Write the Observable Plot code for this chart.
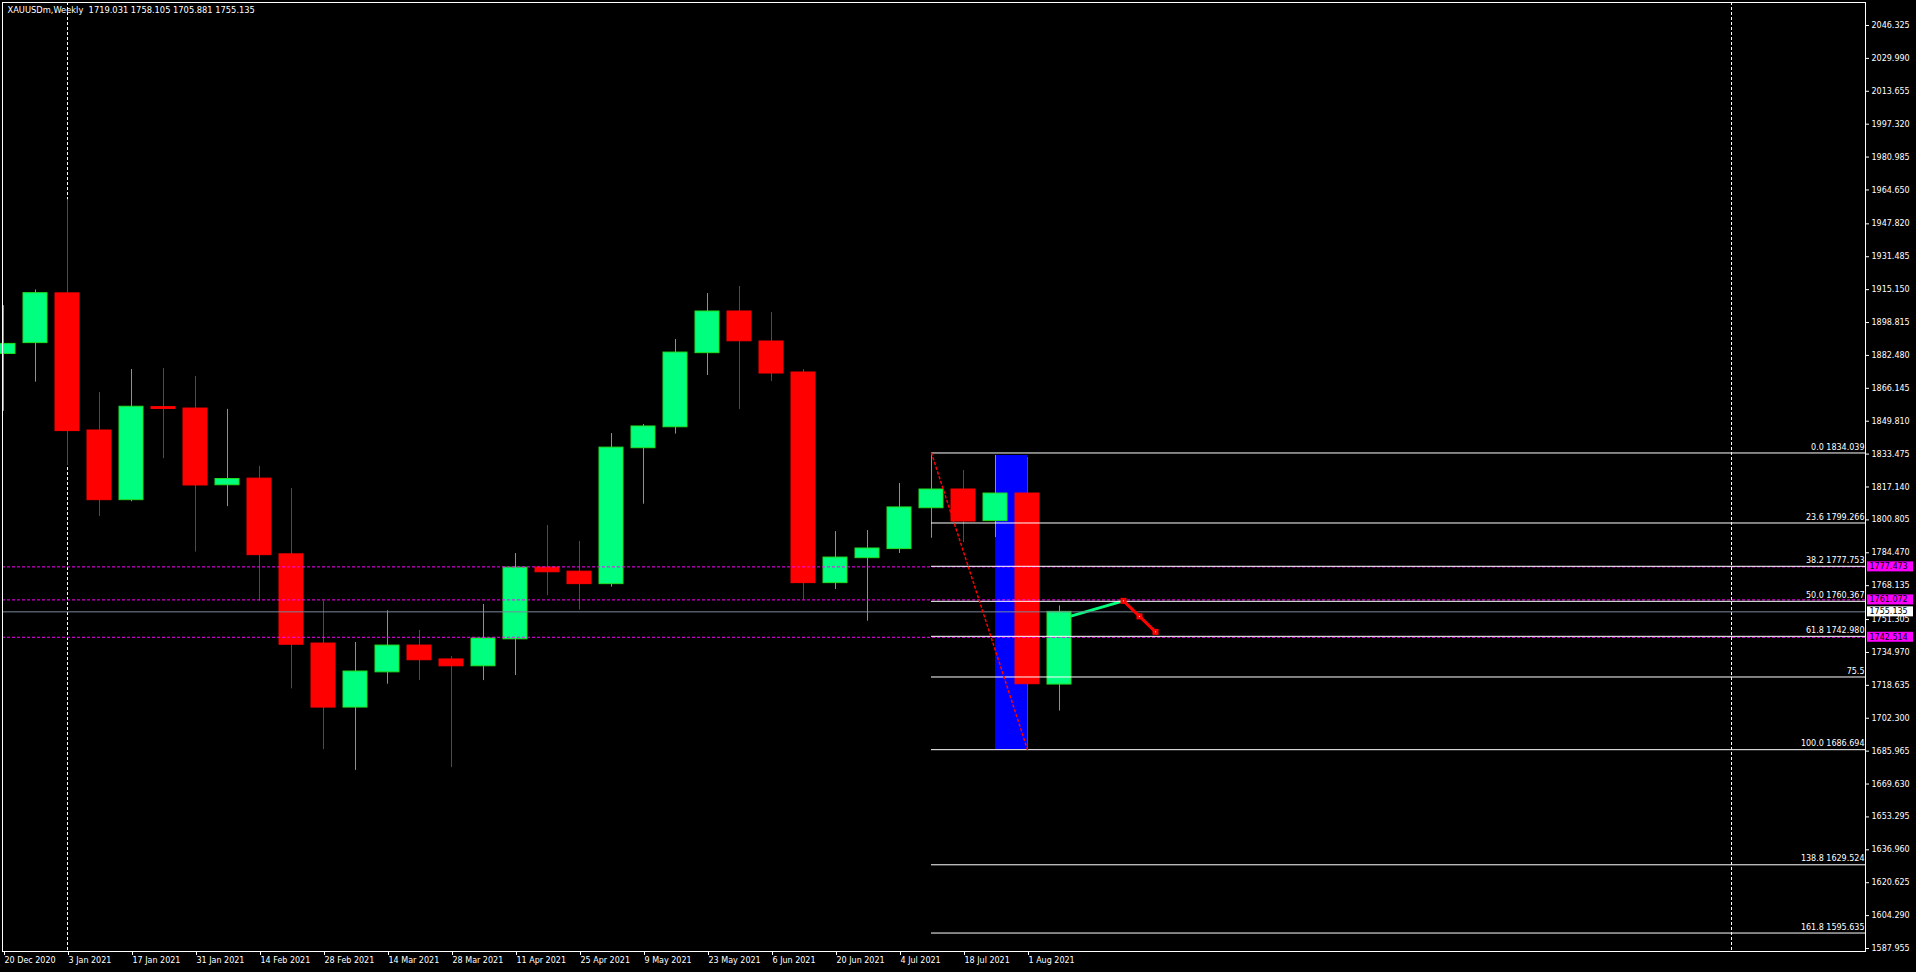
<!DOCTYPE html>
<html><head><meta charset="utf-8">
<script src="https://cdn.jsdelivr.net/npm/d3@7"></script>
<script src="https://cdn.jsdelivr.net/npm/@observablehq/plot@0.6"></script>
<style>
html,body{margin:0;padding:0;background:#000;overflow:hidden}
#chart svg{display:block}
#chart text{white-space:pre}
</style></head><body><div id="chart"></div>
<script>
// ---------- data ----------
const chartTitle = "XAUUSDm,Weekly  1719.031 1758.105 1705.881 1755.135";
const weeks = ["2020-12-20","2020-12-27","2021-01-03","2021-01-10","2021-01-17","2021-01-24","2021-01-31","2021-02-07","2021-02-14","2021-02-21","2021-02-28","2021-03-07","2021-03-14","2021-03-21","2021-03-28","2021-04-04","2021-04-11","2021-04-18","2021-04-25","2021-05-02","2021-05-09","2021-05-16","2021-05-23","2021-05-30","2021-06-06","2021-06-13","2021-06-20","2021-06-27","2021-07-04","2021-07-11","2021-07-18","2021-07-25","2021-08-01","2021-08-08"];
const opens  = [1883.2,1888.6,1913.3,1845.2,1810.6,1856.8,1856.1,1818.0,1821.3,1783.7,1739.4,1707.6,1725.1,1738.4,1731.5,1728.1,1741.5,1777.1,1775.1,1768.9,1836.4,1846.8,1883.6,1904.3,1889.4,1874.0,1769.4,1781.8,1786.3,1806.6,1815.9,1800.2,1813.9,1719.031];
const highs  = [1907.2,1915.0,1959.8,1864.0,1875.5,1876.0,1872.0,1855.7,1827.4,1816.4,1760.5,1739.9,1755.7,1745.9,1732.9,1758.8,1784.1,1798.0,1790.1,1843.7,1848.2,1890.4,1913.2,1916.7,1903.8,1875.5,1795.0,1795.5,1818.9,1834.039,1825.3,1832.8,1831.8,1758.105];
const lows   = [1854.7,1869.2,1827.7,1802.5,1809.8,1831.2,1784.8,1807.4,1760.5,1716.9,1686.7,1676.4,1719.2,1721.0,1677.8,1721.0,1723.5,1763.2,1756.0,1767.4,1808.6,1843.4,1872.5,1855.6,1869.5,1761.1,1766.2,1750.5,1784.1,1791.7,1789.6,1792.0,1686.694,1705.881];
const closes = [1888.2,1913.4,1844.9,1810.6,1857.0,1855.9,1817.9,1821.1,1783.3,1738.8,1707.6,1725.5,1738.4,1731.1,1728.1,1741.9,1777.1,1774.8,1768.9,1836.7,1847.2,1883.9,1904.3,1889.5,1873.5,1769.4,1782.1,1786.6,1807.0,1815.9,1800.0,1813.9,1719.2,1755.135];

const xTickLabels = ["20 Dec 2020","3 Jan 2021","17 Jan 2021","31 Jan 2021","14 Feb 2021","28 Feb 2021","14 Mar 2021","28 Mar 2021","11 Apr 2021","25 Apr 2021","9 May 2021","23 May 2021","6 Jun 2021","20 Jun 2021","4 Jul 2021","18 Jul 2021","1 Aug 2021"];
const yTicks = [2046.325,2029.990,2013.655,1997.320,1980.985,1964.650,1947.820,1931.485,1915.150,1898.815,1882.480,1866.145,1849.810,1833.475,1817.140,1800.805,1784.470,1768.135,1751.305,1734.970,1718.635,1702.300,1685.965,1669.630,1653.295,1636.960,1620.625,1604.290,1587.955];

const fibPrices = [1834.039,1799.266,1777.753,1760.367,1742.980,1722.79,1686.694,1629.524,1595.635];
const fibLabels = ["0.0 1834.039","23.6 1799.266","38.2 1777.753","50.0 1760.367","61.8 1742.980","75.5","100.0 1686.694","138.8 1629.524","161.8 1595.635"];
const fibStartWeek = "2021-07-11";

const trendWeeks = ["2021-07-11","2021-08-01"];
const trendPrices = [1834.039,1686.694];

const boxWeeks = ["2021-07-25","2021-08-01"];
const boxPrices = [1832.8,1686.694];

const alertPrices = [1777.473,1761.072,1742.514];
const bidPrice = 1755.135;
const separatorWeeks = ["2021-01-03","2022-01-02"];

const projGreenTimes = ["2021-08-08","2021-08-22"];
const projGreenPrices = [1751.4,1760.6];
const projRedTimes = ["2021-08-22","2021-08-25T12:00Z","2021-08-29"];
const projRedPrices = [1760.6,1752.9,1745.2];

// ---------- build ----------
const WEEK = 7 * 864e5;
const D = s => new Date(s);
const candles = weeks.map((w, i) => ({date: D(w), open: opens[i], high: highs[i], low: lows[i], close: closes[i], up: closes[i] >= opens[i]}));
const parseTick = d3.utcParse("%d %b %Y");
const xTicks = xTickLabels.map(parseTick);
const t0 = +D(weeks[0]);
const xDomain = [new Date(t0 - 0.03125 * WEEK), new Date(t0 + 58.1875 * WEEK)];
const xEnd = xDomain[1];
const fib = fibPrices.map((p, i) => ({price: p, label: fibLabels[i]}));
const trend = trendWeeks.map((w, i) => ({date: D(w), price: trendPrices[i]}));
const projGreen = projGreenTimes.map((w, i) => ({date: D(w), price: projGreenPrices[i]}));
const projRed = projRedTimes.map((w, i) => ({date: D(w), price: projRedPrices[i]}));

const UPFILL = "#00ff7f", UPLINE = "#22dd22", DOWN = "#ff0000";
const HALF = 0.375 * WEEK;

const chart = Plot.plot({
  width: 1916, height: 972,
  marginLeft: 2, marginRight: 51, marginTop: 2, marginBottom: 21,
  style: {background: "#000", color: "#fff", fontFamily: "DejaVu Sans", fontSize: "8px"},
  x: {type: "utc", domain: xDomain, axis: null},
  y: {domain: [1586.465, 2057.747], axis: null},
  marks: [
    Plot.ruleX(separatorWeeks.map(D), {x: d => d, stroke: "#fff", strokeDasharray: "3,2"}),
    Plot.rect([0], {x1: D(boxWeeks[0]), x2: D(boxWeeks[1]), y1: boxPrices[0], y2: boxPrices[1], fill: "#0000ff"}),
    Plot.line(projGreen, {x: "date", y: "price", stroke: UPFILL, strokeWidth: 3}),
    Plot.ruleX(candles, {x: "date", y1: "low", y2: "high", stroke: d => d.up ? UPLINE : DOWN}),
    Plot.rect(candles, {
      x1: d => new Date(+d.date - HALF), x2: d => new Date(+d.date + HALF),
      y1: "open", y2: "close",
      fill: d => d.up ? UPFILL : DOWN, stroke: d => d.up ? UPLINE : DOWN
    }),
    Plot.ruleY(alertPrices, {y: d => d, stroke: "#ff00ff", strokeDasharray: "3,2"}),
    Plot.ruleY([bidPrice], {y: d => d, stroke: "#778899"}),
    Plot.ruleY(fib, {y: "price", x1: D(fibStartWeek), x2: xEnd, stroke: "#fff"}),
    Plot.text(fib, {y: "price", frameAnchor: "right", textAnchor: "end", dx: -1, dy: -6, text: "label", fill: "#fff"}),
    Plot.line(trend, {x: "date", y: "price", stroke: DOWN, strokeDasharray: "2,3"}),
    Plot.line(projRed, {x: "date", y: "price", stroke: DOWN, strokeWidth: 3}),
    Plot.dot(projRed, {x: "date", y: "price", symbol: "square", r: 3.4, fill: DOWN}),
    Plot.dot(projRed, {x: "date", y: "price", r: 0.6, fill: "#fff"}),
    Plot.frame({stroke: "#fff"}),
    Plot.axisY(yTicks, {anchor: "right", tickSize: 3, tickPadding: 3, textAnchor: "start", tickFormat: d => d.toFixed(3), label: null}),
    Plot.axisX(xTicks, {anchor: "bottom", tickSize: 4, tickPadding: 2, textAnchor: "start", dx: 1, tickFormat: (d, i) => xTickLabels[i], label: null}),
    Plot.rect(alertPrices, {x1: xEnd, x2: xEnd, y1: d => d, y2: d => d, insetLeft: 2, insetRight: -48, insetTop: -5, insetBottom: -5, fill: "#ff00ff"}),
    Plot.text(alertPrices, {y: d => d, frameAnchor: "right", dx: 4, textAnchor: "start", fill: "#000", text: d => d.toFixed(3)}),
    Plot.rect([bidPrice], {x1: xEnd, x2: xEnd, y1: d => d, y2: d => d, insetLeft: 2, insetRight: -48, insetTop: -5, insetBottom: -5, fill: "#fff"}),
    Plot.text([bidPrice], {y: d => d, frameAnchor: "right", dx: 4, textAnchor: "start", fill: "#000", text: d => d.toFixed(3)}),
    Plot.text([chartTitle], {frameAnchor: "top-left", dx: 5, dy: 5, lineAnchor: "top", textAnchor: "start", text: d => d, fill: "#fff", fontSize: 8.3})
  ]
});
document.getElementById("chart").appendChild(chart);
</script></body></html>
